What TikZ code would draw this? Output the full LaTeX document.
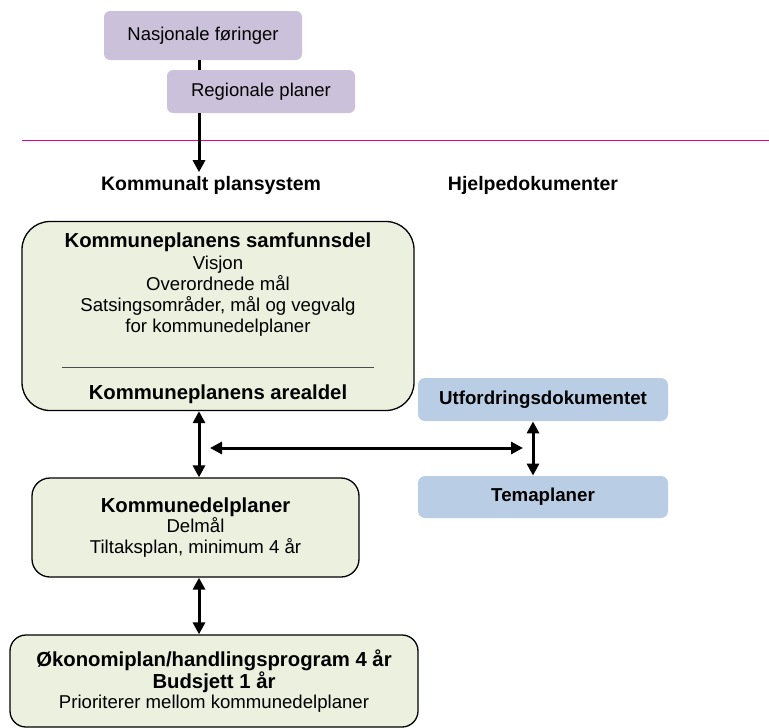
\documentclass[tikz,border=0pt]{standalone}
\usepackage{fontspec}
\setmainfont{Liberation Sans}
\usepackage{tikz}
\usetikzlibrary{arrows.meta, positioning}
\tikzset{>={Triangle[length=12pt,width=12pt]}}
\definecolor{lilla}{HTML}{CCC1DA}
\definecolor{lysgronn}{HTML}{EBF1DE}
\definecolor{lysblaa}{HTML}{B9CDE5}
\newcommand{\tittel}[1]{{\fontsize{20.3}{21}\selectfont\bfseries #1}}

\begin{document}
\begin{tikzpicture}[x=1pt, y=-1pt, thick,
    ytre/.style={fill=lilla, rounded corners=6pt, inner sep=0pt, font=\fontsize{18.5}{21}\selectfont},
    plan/.style={draw=black, line width=1.3pt, fill=lysgronn, align=center, inner sep=0pt, font=\fontsize{18.6}{20.8}\selectfont},
    hjelp/.style={fill=lysblaa, rounded corners=7pt, inner sep=0pt, font=\fontsize{18.7}{21}\selectfont\bfseries},
    overskrift/.style={font=\fontsize{19.5}{22}\selectfont\bfseries},
    pil/.style={line width=3pt}]
    \useasboundingbox (0,0) rectangle (769,728);

    \node[ytre, minimum width=198pt, minimum height=49pt]  (nasj) at (203,35.5) {Nasjonale føringer};
    \node[ytre, minimum width=188pt, minimum height=43pt]  (reg)  at (261,91.5) {Regionale planer};

    \draw[magenta, line width=0.8pt] (22,140) -- (769,140);

    \node[overskrift] (plansys) at (211,185) {Kommunalt plansystem};
    \node[overskrift] (hjelpdok) at (533,185) {Hjelpedokumenter};

    \node[plan, rounded corners=28pt, minimum width=392pt, minimum height=189pt] (ksam) at (218,316)
      {\rule{0pt}{20pt}\tittel{Kommuneplanens samfunnsdel}\\[1pt]
       Visjon\\ Overordnede mål\\ Satsingsområder, mål og vegvalg\\ for kommunedelplaner\\[15pt]
       \textcolor{black!70}{\rule{313pt}{0.6pt}}\\[11pt]
       \tittel{Kommuneplanens arealdel}};

    \node[hjelp, minimum width=250pt, minimum height=43pt] (utf)  at (543,399.5) {Utfordringsdokumentet};
    \node[hjelp, minimum width=250pt, minimum height=42pt] (tema) at (543,497) {Temaplaner};

    \node[plan, rounded corners=18pt, minimum width=327pt, minimum height=99pt] (kdp) at (195.5,527.5)
      {\tittel{Kommunedelplaner}\\ Delmål\\ Tiltaksplan, minimum 4 år};

    \node[plan, rounded corners=16pt, minimum width=408pt, minimum height=92pt] (okon) at (214,681)
      {\tittel{Økonomiplan/handlingsprogram 4 år}\\
       \tittel{Budsjett 1 år}\\ Prioriterer mellom kommunedelplaner};

    \coordinate (hv) at (210,448);
    \coordinate (hh) at (523,448);

    % piler
    \draw[pil] (nasj.south -| 199,0) -- (reg.north -| 199,0);
    \draw[pil, ->] (reg.south -| 199,0) -- (plansys.north -| 199,0);
    \draw[pil, <->] (ksam.south -| 199,0) -- (kdp.north -| 199,0);
    \draw[pil, <->] (hv) -- (hh);
    \draw[pil, <->] (utf.south -| 533,0) -- (tema.north -| 533,0);
    \draw[pil, <->] (kdp.south -| 199,0) -- (okon.north -| 199,0);
\end{tikzpicture}
\end{document}
